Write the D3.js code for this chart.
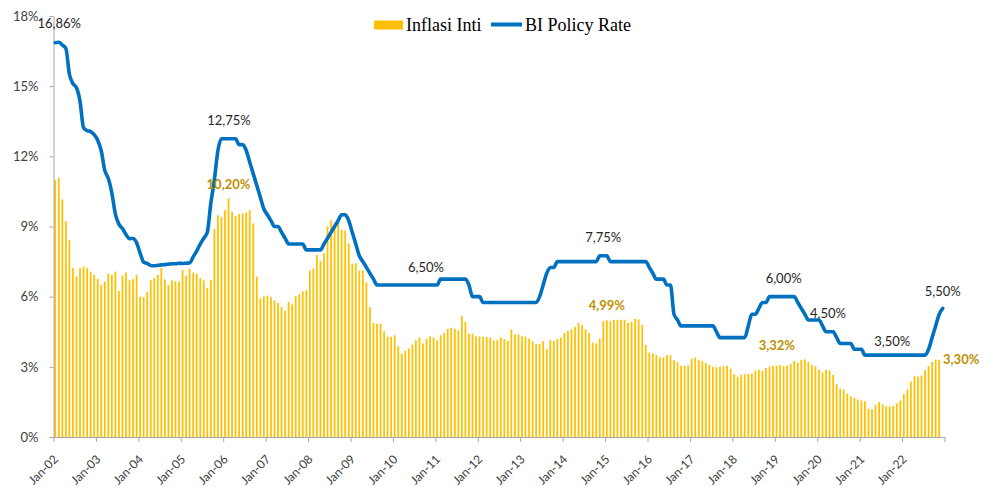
<!DOCTYPE html>
<html>
<head>
<meta charset="utf-8">
<script src="https://cdn.jsdelivr.net/npm/d3@7"></script>
<style>
body { margin: 0; background: #fff; }
svg text { font-family: Lato, "Open Sans", sans-serif; }
</style>
</head>
<body>
<svg id="chart" width="988" height="487"></svg>
<script>
var years, monthNames, yTicks, inflasiInti, biRate, rateLabels, coreLabels;

years = ["02", "03", "04", "05", "06", "07", "08", "09", "10", "11", "12",
  "13", "14", "15", "16", "17", "18", "19", "20", "21", "22"];

monthNames = ["Jan", "Feb", "Mar", "Apr", "May", "Jun", "Jul", "Aug", "Sep", "Oct", "Nov", "Dec"];

yTicks = [0, 3, 6, 9, 12, 15, 18];

// core inflation, % yoy (Dec-22 not yet out)
inflasiInti = [
  10.98, 11.08, 10.16, 9.23, 8.42, 7.22, 6.86, 7.22, 7.29, 7.22, 7.07, 6.93,   // 2002
  6.76, 6.50, 6.65, 6.98, 6.93, 7.07, 6.24, 6.90, 7.03, 6.70, 6.75, 6.93,      // 2003
  6.00, 5.98, 6.20, 6.70, 6.80, 6.93, 7.22, 6.74, 6.50, 6.70, 6.65, 6.64,      // 2004
  7.14, 6.90, 7.19, 7.03, 6.98, 6.80, 6.70, 6.36, 6.70, 8.89, 9.48, 9.41,      // 2005
  9.70, 10.20, 9.63, 9.44, 9.53, 9.56, 9.59, 9.70, 9.13, 6.85, 5.92, 6.02,     // 2006
  6.05, 5.98, 5.84, 5.73, 5.56, 5.39, 5.77, 5.67, 6.02, 6.10, 6.23, 6.27,      // 2007
  7.11, 7.21, 7.78, 7.52, 7.85, 9.00, 9.26, 9.00, 9.19, 8.86, 8.83, 8.28,      // 2008
  7.41, 7.43, 7.12, 7.12, 6.62, 5.55, 4.88, 4.84, 4.84, 4.52, 4.30, 4.28,      // 2009
  4.35, 3.88, 3.56, 3.68, 3.78, 3.95, 4.13, 4.25, 4.00, 4.20, 4.30, 4.25,      // 2010
  4.13, 4.35, 4.45, 4.63, 4.66, 4.63, 4.56, 5.16, 4.92, 4.42, 4.42, 4.30,      // 2011
  4.30, 4.28, 4.28, 4.25, 4.13, 4.14, 4.26, 4.19, 4.10, 4.60, 4.38, 4.38,      // 2012
  4.31, 4.28, 4.21, 4.10, 3.97, 3.97, 4.10, 3.76, 4.14, 4.10, 4.19, 4.26,      // 2013
  4.45, 4.54, 4.60, 4.71, 4.88, 4.78, 4.60, 4.45, 4.04, 4.00, 4.20, 4.95,      // 2014
  4.99, 4.95, 5.01, 5.01, 5.01, 5.01, 4.88, 4.92, 5.05, 5.03, 4.79, 3.93,      // 2015
  3.61, 3.57, 3.50, 3.40, 3.40, 3.50, 3.50, 3.29, 3.20, 3.04, 3.05, 3.05,      // 2016
  3.35, 3.40, 3.30, 3.25, 3.16, 3.08, 3.00, 2.98, 3.00, 3.04, 3.04, 2.92,      // 2017
  2.68, 2.57, 2.66, 2.68, 2.70, 2.70, 2.85, 2.88, 2.82, 2.95, 3.01, 3.03,      // 2018
  3.06, 3.06, 3.03, 3.05, 3.12, 3.25, 3.18, 3.30, 3.32, 3.20, 3.08, 3.02,      // 2019
  2.88, 2.76, 2.87, 2.85, 2.65, 2.26, 2.07, 2.03, 1.86, 1.74, 1.67, 1.60,      // 2020
  1.56, 1.53, 1.21, 1.18, 1.37, 1.49, 1.40, 1.31, 1.30, 1.33, 1.44, 1.56,      // 2021
  1.84, 2.03, 2.37, 2.60, 2.58, 2.63, 2.86, 3.04, 3.21, 3.31, 3.30, null       // 2022
];

// policy rate, %
biRate = [
  16.86, 16.88, 16.76, 16.61, 15.51, 15.11, 14.93, 14.35, 13.22, 13.10, 13.06, 12.93,
  12.69, 12.24, 11.40, 11.06, 10.44, 9.53, 9.10, 8.91, 8.66, 8.48, 8.49, 8.31,
  7.86, 7.48, 7.42, 7.33, 7.32, 7.34, 7.36, 7.37, 7.39, 7.41, 7.41, 7.43,
  7.42, 7.43, 7.44, 7.70, 7.95, 8.25, 8.50, 8.75, 10.00, 11.00, 12.25, 12.75,
  12.75, 12.75, 12.75, 12.75, 12.50, 12.50, 12.25, 11.75, 11.25, 10.75, 10.25, 9.75,
  9.50, 9.25, 9.00, 9.00, 8.75, 8.50, 8.25, 8.25, 8.25, 8.25, 8.25, 8.00,
  8.00, 8.00, 8.00, 8.00, 8.25, 8.50, 8.75, 9.00, 9.25, 9.50, 9.50, 9.25,
  8.75, 8.25, 7.75, 7.50, 7.25, 7.00, 6.75, 6.50, 6.50, 6.50, 6.50, 6.50,
  6.50, 6.50, 6.50, 6.50, 6.50, 6.50, 6.50, 6.50, 6.50, 6.50, 6.50, 6.50,
  6.50, 6.75, 6.75, 6.75, 6.75, 6.75, 6.75, 6.75, 6.75, 6.50, 6.00, 6.00,
  6.00, 5.75, 5.75, 5.75, 5.75, 5.75, 5.75, 5.75, 5.75, 5.75, 5.75, 5.75,
  5.75, 5.75, 5.75, 5.75, 5.75, 6.00, 6.50, 7.00, 7.25, 7.25, 7.50, 7.50,
  7.50, 7.50, 7.50, 7.50, 7.50, 7.50, 7.50, 7.50, 7.50, 7.50, 7.75, 7.75,
  7.75, 7.50, 7.50, 7.50, 7.50, 7.50, 7.50, 7.50, 7.50, 7.50, 7.50, 7.50,
  7.25, 7.00, 6.75, 6.75, 6.75, 6.50, 6.50, 5.25, 5.00, 4.75, 4.75, 4.75,
  4.75, 4.75, 4.75, 4.75, 4.75, 4.75, 4.75, 4.50, 4.25, 4.25, 4.25, 4.25,
  4.25, 4.25, 4.25, 4.25, 4.75, 5.25, 5.25, 5.50, 5.75, 5.75, 6.00, 6.00,
  6.00, 6.00, 6.00, 6.00, 6.00, 6.00, 5.75, 5.50, 5.25, 5.00, 5.00, 5.00,
  5.00, 4.75, 4.50, 4.50, 4.50, 4.25, 4.00, 4.00, 4.00, 4.00, 3.75, 3.75,
  3.75, 3.50, 3.50, 3.50, 3.50, 3.50, 3.50, 3.50, 3.50, 3.50, 3.50, 3.50,
  3.50, 3.50, 3.50, 3.50, 3.50, 3.50, 3.50, 3.75, 4.25, 4.75, 5.25, 5.50
];

// data labels: month key + text
rateLabels = [
  { month: "Jan-02", text: "16,86%" },
  { month: "Jan-06", text: "12,75%" },
  { month: "Sep-10", text: "6,50%" },
  { month: "Dec-14", text: "7,75%" },
  { month: "Mar-19", text: "6,00%" },
  { month: "Mar-20", text: "4,50%" },
  { month: "Oct-21", text: "3,50%" },
  { month: "Dec-22", text: "5,50%" }
];

coreLabels = [
  { month: "Feb-06", text: "10,20%" },
  { month: "Jan-15", text: "4,99%" },
  { month: "Sep-19", text: "3,32%" },
  { month: "Nov-22", text: "3,30%" }
];

var draw = function() {
  var svg, months, x, xi, y, g, left, right, top, bottom, line, ofs, legend;
  svg = d3.select("#chart");
  left = 53.5; right = 944.5; top = 16; bottom = 437;

  months = [];
  years.forEach(function(yy) {
    monthNames.forEach(function(m) { months.push(m + "-" + yy); });
  });

  x = d3.scaleBand().domain(months).range([left, right]).paddingInner(0.5).paddingOuter(0.25);
  xi = d3.scaleLinear().domain([0, months.length]).range([left, right]);
  y = d3.scaleLinear().domain([0, 18]).range([bottom, top]);

  var cx = function(m) { return x(m) + x.bandwidth() / 2; };

  // bars
  svg.append("g").selectAll("rect")
    .data(months.map(function(m, i) { return { m: m, v: inflasiInti[i] }; })
      .filter(function(d) { return d.v != null; }))
    .enter().append("rect")
    .attr("x", function(d) { return x(d.m); })
    .attr("width", x.bandwidth())
    .attr("y", function(d) { return y(d.v); })
    .attr("height", function(d) { return y(0) - y(d.v); })
    .attr("fill", "#FFC000");

  // y axis
  g = svg.append("g").attr("transform", "translate(" + left + ",0)")
    .call(d3.axisLeft(y).tickValues(yTicks).tickSize(4).tickSizeOuter(0).tickPadding(11)
      .tickFormat(function(d) { return d + "%"; }));
  g.select(".domain").attr("stroke", "#a6a6a6");
  g.selectAll(".tick line").attr("stroke", "#a6a6a6");
  g.selectAll(".tick text").attr("fill", "#404040").style("font-size", "13px");

  // x axis, ticks on the january boundaries
  g = svg.append("g").attr("transform", "translate(0," + bottom + ")")
    .call(d3.axisBottom(xi).tickValues(d3.range(0, months.length + 1, 12)).tickSize(5).tickSizeOuter(0)
      .tickFormat(function(i) { return i < months.length ? months[i] : ""; }));
  g.select(".domain").attr("stroke", "#a6a6a6");
  g.selectAll(".tick line").attr("stroke", "#a6a6a6");
  g.selectAll(".tick text")
    .attr("fill", "#404040").style("font-size", "12px")
    .attr("x", 0).attr("y", 0).attr("dy", "0.35em")
    .attr("text-anchor", "end")
    .attr("transform", "translate(2,20) rotate(-45)");

  // policy rate line
  line = d3.line()
    .x(function(d) { return cx(d.m); })
    .y(function(d) { return y(d.v); })
    .curve(d3.curveMonotoneX);
  svg.append("path")
    .datum(months.map(function(m, i) { return { m: m, v: biRate[i] }; }))
    .attr("d", line)
    .attr("fill", "none")
    .attr("stroke", "#0070C0")
    .attr("stroke-width", 3.6)
    .attr("stroke-linejoin", "round")
    .attr("stroke-linecap", "round");

  // labels
  ofs = {
    "Jan-02": [4, -19], "Jan-06": [4, -18], "Sep-10": [3, -18], "Dec-14": [0, -18],
    "Mar-19": [0, -18], "Mar-20": [2, -18], "Oct-21": [-1, -14], "Dec-22": [0, -17],
    "Feb-06": [0, -14], "Jan-15": [0, -15], "Sep-19": [-28, -14], "Nov-22": [22, 0]
  };
  svg.append("g").selectAll("text").data(rateLabels).enter().append("text")
    .attr("x", function(d) { return cx(d.month) + ofs[d.month][0]; })
    .attr("y", function(d) { return y(biRate[months.indexOf(d.month)]) + ofs[d.month][1]; })
    .attr("dy", "0.35em")
    .attr("text-anchor", "middle")
    .attr("fill", "#262626")
    .style("font-size", "13px")
    .text(function(d) { return d.text; });
  svg.append("g").selectAll("text").data(coreLabels).enter().append("text")
    .attr("x", function(d) { return cx(d.month) + ofs[d.month][0]; })
    .attr("y", function(d) { return y(inflasiInti[months.indexOf(d.month)]) + ofs[d.month][1]; })
    .attr("dy", "0.35em")
    .attr("text-anchor", "middle")
    .attr("fill", "#BF9000")
    .style("font-size", "13px")
    .style("font-weight", "bold")
    .text(function(d) { return d.text; });

  // legend
  legend = svg.append("g");
  legend.append("rect").attr("x", 374).attr("y", 20.5).attr("width", 29).attr("height", 9).attr("fill", "#FFC000");
  legend.append("text").attr("x", 406).attr("y", 25).attr("dy", "0.35em")
    .style("font-family", "'Liberation Serif', serif").style("font-size", "18px").attr("fill", "#000")
    .text("Inflasi Inti");
  legend.append("line").attr("x1", 491).attr("x2", 522).attr("y1", 24.5).attr("y2", 24.5)
    .attr("stroke", "#0070C0").attr("stroke-width", 4);
  legend.append("text").attr("x", 525).attr("y", 25).attr("dy", "0.35em")
    .style("font-family", "'Liberation Serif', serif").style("font-size", "18px").attr("fill", "#000")
    .text("BI Policy Rate");
};

draw();
</script>
</body>
</html>
